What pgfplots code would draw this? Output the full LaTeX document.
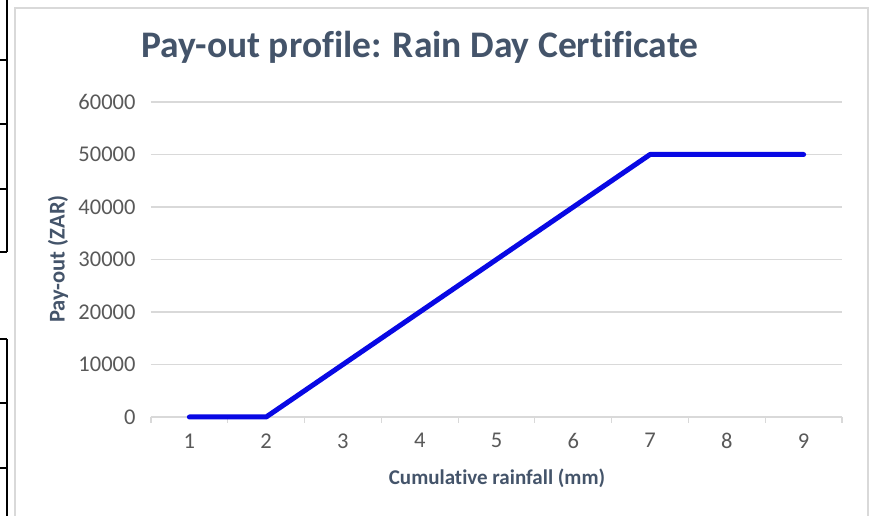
\documentclass[border=0pt]{standalone}
\usepackage{pgfplots}
\pgfplotsset{compat=1.18}
\usepackage{fontspec}
\setmainfont{Carlito}[Ligatures=NoCommon]
\definecolor{titlecol}{HTML}{44546A}
\definecolor{tickcol}{HTML}{595959}
\definecolor{gridcol}{HTML}{D9D9D9}
\definecolor{linecol}{RGB}{8,8,228}
\begin{document}
\begin{tikzpicture}[x=1pt,y=1pt]
\path[use as bounding box, fill=white] (0,0) rectangle (871,516);
% chart frame
\draw[gridcol, line width=1.5pt] (15,-5) -- (15,508) -- (868,508) -- (868,-5);
% stray table borders at the left edge
\draw[black, line width=1.5pt] (7,520) -- (7,264);
\foreach \yy in {60,124,189,252} {\draw[black, line width=1.5pt] (-2,516-\yy) -- (7,516-\yy);}
\draw[black, line width=1.5pt] (7,516-339) -- (7,-5);
\foreach \yy in {339,403,468} {\draw[black, line width=1.5pt] (-2,516-\yy) -- (7,516-\yy);}
\begin{axis}[
  at={(151pt,99pt)}, anchor=south west,
  scale only axis, width=691pt, height=315pt,
  xmin=0.5, xmax=9.5, ymin=0, ymax=60000,
  xtick={1,...,9},
  minor xtick={0.5,1.5,...,9.5},
  ytick={0,10000,...,60000},
  scaled y ticks=false,
  /pgf/number format/assume math mode=true,
  yticklabel={\pgfmathprintnumber[fixed,set thousands separator={}]{\tick}},
  axis x line*=bottom, axis y line*=left,
  x axis line style={gridcol, line width=1.2pt, -},
  y axis line style={draw=none},
  tick align=outside,
  major tick length=0pt,
  minor tick length=6pt,
  minor x tick style={gridcol, line width=1.2pt},
  ytick style={draw=none},
  ymajorgrids, grid style={gridcol, line width=1.2pt},
  tick label style={font=\fontsize{22.5}{26}\selectfont, text=tickcol},
  xticklabel style={yshift=-13pt},
  yticklabel style={xshift=-12pt},
  clip=false,
]
\addplot[linecol, line width=5pt, line cap=round, line join=round] coordinates {
(1,0) (2,0) (7,50000) (9,50000)
};
\end{axis}
\node[text=titlecol, font=\fontsize{37.5}{43}\selectfont\bfseries] at (420,516-47) {Pay-out profile: Rain Day Certificate};
\node[text=titlecol, font=\fontsize{21}{25}\selectfont\bfseries] at (497,516-478) {Cumulative rainfall (mm)};
\node[text=titlecol, font=\fontsize{22.5}{26}\selectfont\bfseries, rotate=90] at (58,516-259) {Pay-out (ZAR)};
\end{tikzpicture}
\end{document}
